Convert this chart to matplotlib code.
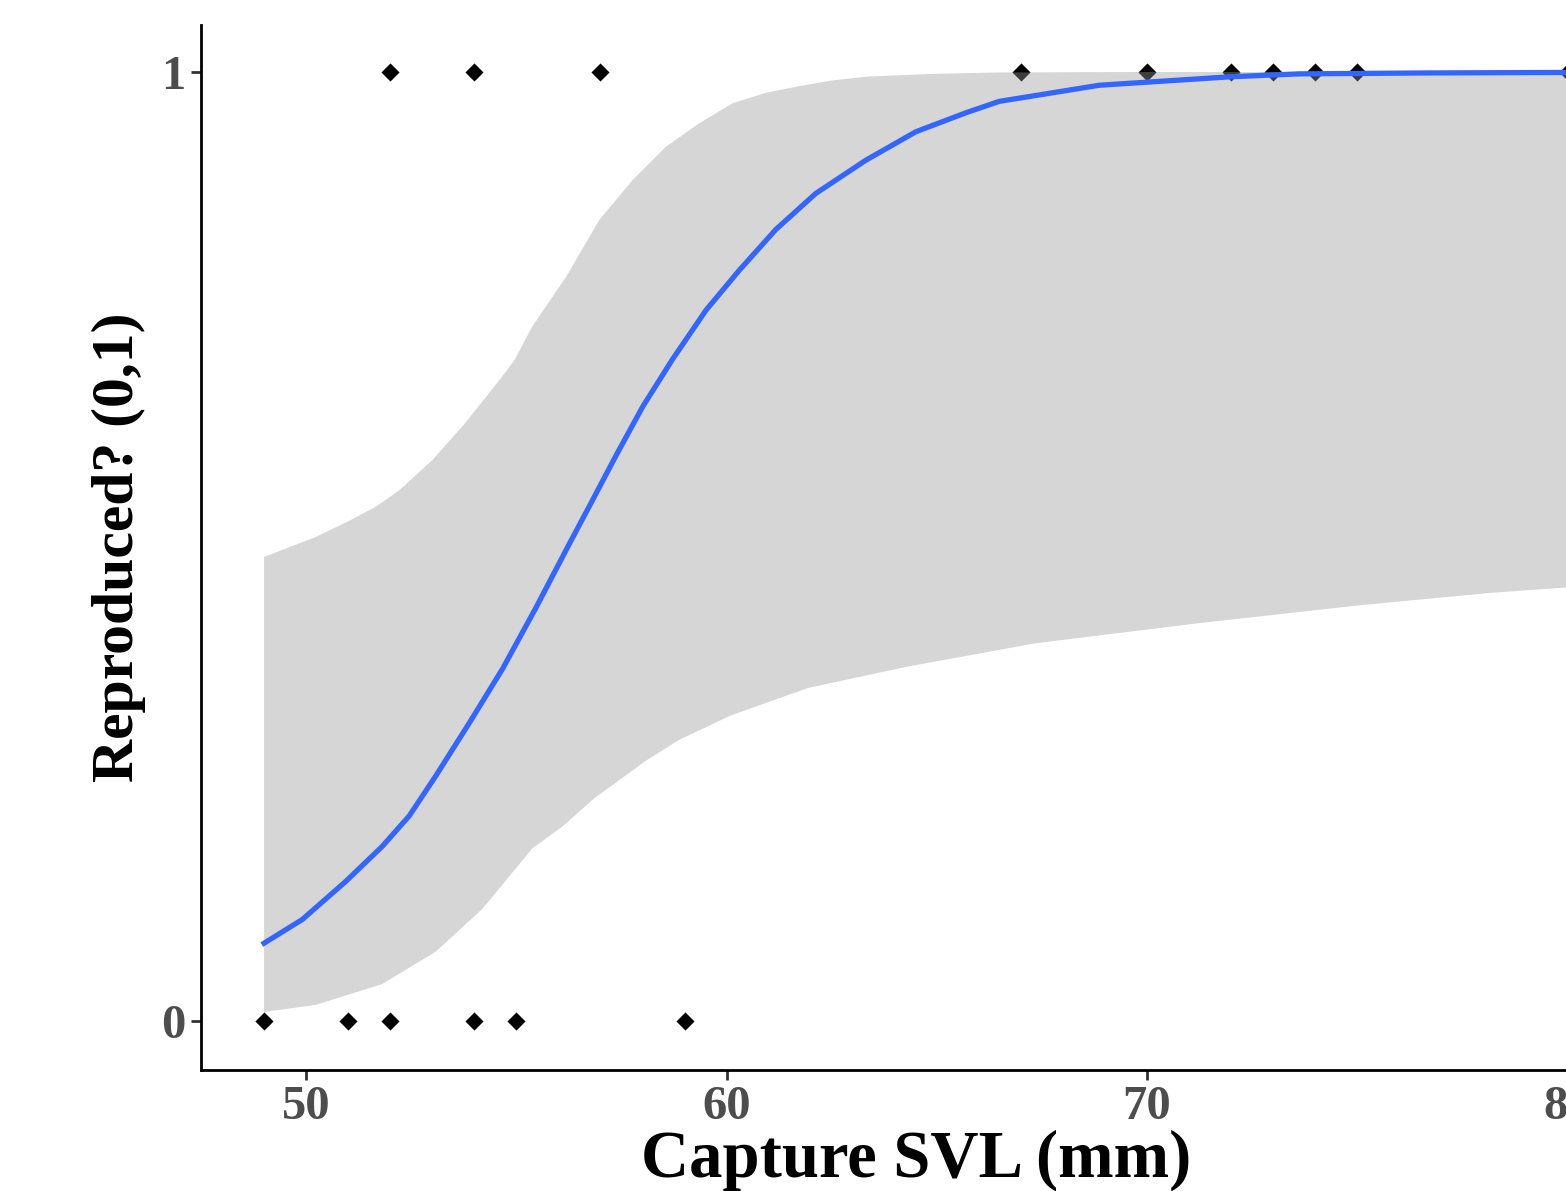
import numpy as np
import matplotlib.pyplot as plt

# Observed captures (SVL in mm) split by reproduction outcome
svl_no = [49, 51, 52, 54, 55, 59]
svl_yes = [52, 54, 57, 67, 70, 72, 73, 74, 75, 80]

# Fitted logistic curve
fit_x = [49.0, 49.91, 50.94, 51.81, 52.45, 53.08, 53.88, 54.67, 55.46, 56.25,
         56.73, 57.36, 58.00, 58.71, 59.51, 60.30, 61.17, 62.12, 63.31, 64.50,
         65.69, 66.48, 68.86, 72.0, 73.61, 76.71, 80.0]
fit_y = [0.082, 0.107, 0.147, 0.184, 0.216, 0.258, 0.314, 0.371, 0.435, 0.502,
         0.542, 0.595, 0.647, 0.697, 0.749, 0.791, 0.834, 0.872, 0.907, 0.937,
         0.957, 0.969, 0.986, 0.995, 0.998, 0.999, 0.9995]

# Confidence band edges
upper_x = [49.0, 50.23, 51.02, 51.66, 52.21, 53.0, 53.8, 54.59, 54.95, 55.38,
           56.18, 56.97, 57.76, 58.55, 59.35, 60.14, 60.93, 61.72, 62.5, 63.31,
           64.89, 66.48, 70.0, 75.0, 80.0]
upper_y = [0.489, 0.510, 0.527, 0.542, 0.559, 0.591, 0.631, 0.675, 0.696, 0.732,
           0.784, 0.844, 0.886, 0.921, 0.946, 0.967, 0.978, 0.985, 0.991, 0.995,
           0.998, 0.9995, 1.0, 1.0, 1.0]
lower_x = [49.0, 50.23, 51.81, 53.08, 54.19, 55.38, 56.1, 56.86, 58.09, 58.86,
           60.10, 61.94, 64.25, 67.34, 71.19, 75.04, 78.13, 80.0]
lower_y = [0.0095, 0.017, 0.039, 0.073, 0.118, 0.182, 0.205, 0.235, 0.2745, 0.296,
           0.322, 0.351, 0.373, 0.398, 0.419, 0.438, 0.451, 0.457]

plt.rcParams["font.family"] = ["Liberation Serif", "DejaVu Serif"]
plt.rcParams["font.weight"] = "bold"

fig = plt.figure(figsize=(15.66, 11.91), dpi=100)
xlim = (47.5, 81.53)
px_per_unit = 42.05
ax = fig.add_axes([201 / 1566, 121 / 1191,
                   (xlim[1] - xlim[0]) * px_per_unit / 1566, 1045 / 1191])

# points sit underneath the band and the line
ax.scatter(svl_no, np.zeros(len(svl_no)), marker="D", s=85, color="black",
           linewidths=0, zorder=1, clip_on=False)
ax.scatter(svl_yes, np.ones(len(svl_yes)), marker="D", s=85, color="black",
           linewidths=0, zorder=1, clip_on=False)

band_x = np.concatenate([upper_x, lower_x[::-1]])
band_y = np.concatenate([upper_y, lower_y[::-1]])
ax.fill(band_x, band_y, color="#999999", alpha=0.4, linewidth=0, zorder=2)
ax.plot(fit_x, fit_y, color="#3366FF", linewidth=3.8, zorder=3)

ax.set_xlim(*xlim)
ax.set_ylim(-0.0516, 1.0495)
ax.set_xticks([50, 60, 70, 80])
ax.set_yticks([0, 1])

for side in ["top", "right"]:
    ax.spines[side].set_visible(False)
for side in ["left", "bottom"]:
    ax.spines[side].set_linewidth(2)
    ax.spines[side].set_color("black")

ax.tick_params(axis="both", length=7, width=2, color="#333333",
               labelsize=35, labelcolor="#4D4D4D", pad=4)
for lab in ax.get_xticklabels() + ax.get_yticklabels():
    lab.set_fontweight("bold")

ax.set_xlabel("Capture SVL (mm)", fontsize=48, fontweight="bold", labelpad=0)
ax.set_ylabel("Reproduced? (0,1)", fontsize=43, fontweight="bold", labelpad=11)

fig.savefig("out.png", dpi=100)
